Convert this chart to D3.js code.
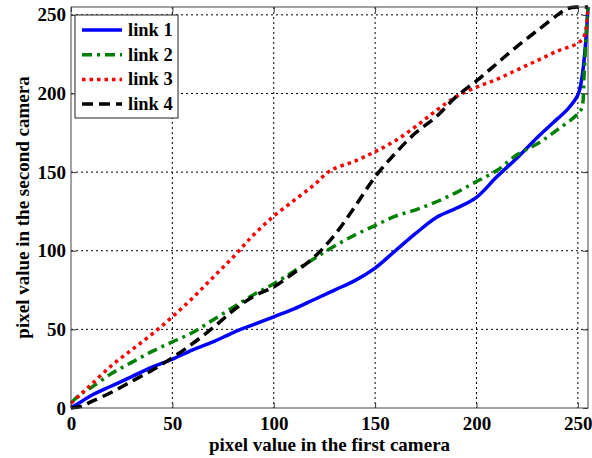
<!DOCTYPE html>
<html>
<head>
<meta charset="utf-8">
<script src="https://cdn.jsdelivr.net/npm/d3@7"></script>
<style>
  body { margin: 0; background: #fff; }
  svg { display: block; font-family: "Liberation Serif", "DejaVu Serif", serif; font-weight: bold; }
</style>
</head>
<body>
<div id="chart"></div>
<script>

// ---- data ----
const link1X = [0, 5, 10, 20, 30, 40, 50, 60, 70, 80, 90, 100, 110, 120, 130, 140, 150, 160, 170, 180, 190, 200, 210, 220, 230, 240, 245, 250, 252, 254, 255];
const link1Y = [0, 4, 8, 14, 20, 26, 31, 37, 42, 48, 53, 58, 63, 69, 75, 81, 89, 100, 111, 121, 127, 134, 147, 159, 172, 184, 190, 199, 210, 235, 255];

const link2X = [0, 3, 5, 10, 20, 30, 40, 50, 60, 70, 80, 90, 100, 110, 120, 130, 140, 150, 160, 170, 180, 190, 200, 210, 220, 230, 240, 250, 252, 253, 254, 255];
const link2Y = [3, 7, 9, 13, 22, 29, 36, 42, 48, 56, 64, 72, 79, 87, 95, 103, 110, 116, 122, 126, 131, 137, 144, 151, 161, 168, 177, 187, 191, 210, 235, 255];

const link3X = [0, 5, 10, 20, 30, 40, 50, 60, 70, 80, 90, 100, 110, 120, 128, 140, 150, 160, 170, 180, 190, 200, 210, 220, 230, 240, 250, 253, 255];
const link3Y = [3, 9, 15, 27, 37, 47, 58, 70, 83, 96, 110, 122, 132, 142, 151, 157, 163, 170, 179, 189, 198, 204, 209, 215, 221, 227, 232, 236, 255];

const link4X = [0, 5, 10, 20, 30, 40, 50, 60, 70, 80, 90, 100, 110, 120, 130, 140, 150, 160, 170, 180, 190, 200, 210, 220, 230, 240, 245, 250, 255];
const link4Y = [0, 1, 4, 10, 17, 24, 32, 41, 51, 62, 71, 77, 86, 96, 110, 128, 147, 162, 175, 185, 198, 208, 219, 230, 240, 250, 254, 255, 255];

const ticks = [0, 50, 100, 150, 200, 250];

const series = [
  { name: 'link 1', xs: link1X, ys: link1Y, color: '#0000ff', dash: null },
  { name: 'link 2', xs: link2X, ys: link2Y, color: '#008000', dash: '10,5,3,5' },
  { name: 'link 3', xs: link3X, ys: link3Y, color: '#ff0000', dash: '3.5,4' },
  { name: 'link 4', xs: link4X, ys: link4Y, color: '#000000', dash: '11,6' }
];

// ---- layout ----
const W = 592, H = 458;
const margin = { top: 7, left: 71, right: 4, bottom: 50 };
const width = W - margin.left - margin.right;
const height = H - margin.top - margin.bottom;

const svg = d3.select('#chart').append('svg')
  .attr('width', W)
  .attr('height', H);

const g = svg.append('g')
  .attr('transform', `translate(${margin.left},${margin.top})`);

const x = d3.scaleLinear().domain([0, 255]).range([0, width]);
const y = d3.scaleLinear().domain([0, 255]).range([height, 0]);

// grid
g.append('g')
  .selectAll('line')
  .data(ticks.filter(t => t > 0))
  .enter().append('line')
  .attr('x1', d => x(d)).attr('x2', d => x(d))
  .attr('y1', 0).attr('y2', height)
  .attr('stroke', '#000').attr('stroke-width', 1)
  .attr('stroke-dasharray', '2,3');

g.append('g')
  .selectAll('line')
  .data(ticks.filter(t => t > 0))
  .enter().append('line')
  .attr('x1', 0).attr('x2', width)
  .attr('y1', d => y(d)).attr('y2', d => y(d))
  .attr('stroke', '#000').attr('stroke-width', 1)
  .attr('stroke-dasharray', '2,3');

// axes (ticks pointing inward, MATLAB style)
const xAxis = g.append('g')
  .attr('transform', `translate(0,${height})`)
  .call(d3.axisBottom(x).tickValues(ticks).tickSizeInner(-5).tickSizeOuter(0).tickPadding(9));

const yAxis = g.append('g')
  .call(d3.axisLeft(y).tickValues(ticks).tickSizeInner(-5).tickSizeOuter(0).tickPadding(5));

g.append('g')
  .call(d3.axisTop(x).tickValues(ticks).tickSizeInner(-5).tickSizeOuter(0).tickFormat(''));
g.append('g')
  .attr('transform', `translate(${width},0)`)
  .call(d3.axisRight(y).tickValues(ticks).tickSizeInner(-5).tickSizeOuter(0).tickFormat(''));

svg.selectAll('.domain').remove();
svg.selectAll('.tick line').attr('stroke', '#333');
[xAxis, yAxis].forEach(a => a.selectAll('text')
  .style('font-family', '"Liberation Serif", serif')
  .style('font-weight', 'bold')
  .style('font-size', '19px')
  .attr('fill', '#000'));

// lines
const line = d3.line()
  .x(d => x(d[0]))
  .y(d => y(d[1]))
  .curve(d3.curveCatmullRom.alpha(0.5));

const plot = g.append('g');
series.forEach(s => {
  const pts = s.xs.map((v, i) => [v, s.ys[i]]);
  plot.append('path')
    .datum(pts)
    .attr('d', line)
    .attr('fill', 'none')
    .attr('stroke', s.color)
    .attr('stroke-width', 3.5)
    .attr('stroke-dasharray', s.dash);
});

// box
g.append('rect')
  .attr('width', width).attr('height', height)
  .attr('fill', 'none')
  .attr('stroke', '#444').attr('stroke-width', 1);

// legend
const legend = g.append('g').attr('transform', 'translate(4,8)');
legend.append('rect')
  .attr('width', 103).attr('height', 103)
  .attr('fill', '#fff')
  .attr('stroke', '#222').attr('stroke-width', 1);

series.forEach((s, i) => {
  const row = legend.append('g').attr('transform', `translate(0,${15 + i * 24.7})`);
  row.append('line')
    .attr('x1', 7).attr('x2', 47)
    .attr('stroke', s.color)
    .attr('stroke-width', 3.5)
    .attr('stroke-dasharray', s.dash);
  row.append('text')
    .attr('x', 53).attr('y', 6)
    .style('font-size', '18.5px')
    .text(s.name);
});

// axis titles
svg.append('text')
  .attr('x', margin.left + width / 2)
  .attr('y', 451)
  .attr('text-anchor', 'middle')
  .style('font-size', '19px')
  .text('pixel value in the first camera');

svg.append('text')
  .attr('transform', `translate(29,${margin.top + height / 2}) rotate(-90)`)
  .attr('text-anchor', 'middle')
  .style('font-size', '19px')
  .text('pixel value in the second camera');

</script>
</body>
</html>
